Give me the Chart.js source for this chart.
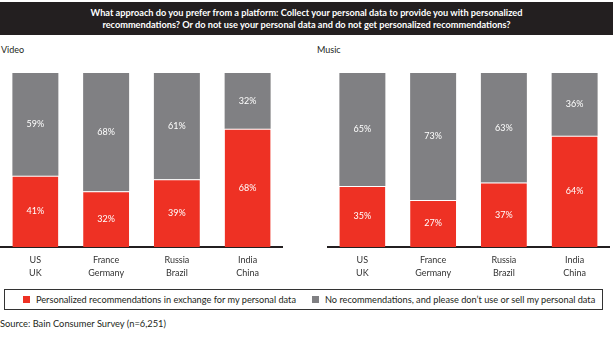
<!DOCTYPE html>
<html>
<head>
<meta charset="utf-8">
<script src="https://cdn.jsdelivr.net/npm/chart.js@4.4.1/dist/chart.umd.min.js"></script>
<style>
  html, body { margin: 0; padding: 0; background: #fff; }
  body { width: 613px; height: 346px; position: relative; overflow: hidden; font-family: Lato, "Liberation Sans", sans-serif; color: #231F20; }
  #title { position: absolute; left: 0; top: 2px; width: 613px; height: 33px; background: #231F20; color: #fff; font-weight: bold; font-size: 9.2px; line-height: 12px; text-align: center; box-sizing: border-box; padding-top: 5px; }
  .panel { position: absolute; top: 44px; font-size: 9px; }
  .cv { position: absolute; }
  #legend { position: absolute; left: 4px; top: 289px; width: 599px; height: 21px; border: 1px solid #333; box-sizing: border-box; font-size: 9.2px; }
  .sw { position: absolute; top: 6px; width: 7px; height: 7px; }
  .lt { position: absolute; top: 4px; white-space: nowrap; line-height: 11px; }
  #source { position: absolute; left: 0; top: 318px; font-size: 9.3px; white-space: nowrap; }
</style>
</head>
<body>
<div id="title">What approach do you prefer from a platform: Collect your personal data to provide you with personalized<br>recommendations? Or do not use your personal data and do not get personalized recommendations?</div>
<div class="panel" style="left:1px;">Video</div>
<div class="panel" style="left:317px;">Music</div>
<div class="cv" style="left:0px; top:70px; width:283px; height:215px;"><canvas id="c1"></canvas></div>
<div class="cv" style="left:327px; top:70px; width:283px; height:215px;"><canvas id="c2"></canvas></div>
<div id="legend">
  <div class="sw" style="left:18px; background:#EE3124;"></div>
  <div class="lt" style="left:31px;">Personalized recommendations in exchange for my personal data</div>
  <div class="sw" style="left:307px; background:#808083;"></div>
  <div class="lt" style="left:320px;">No recommendations, and please don’t use or sell my personal data</div>
</div>
<div id="source">Source: Bain Consumer Survey (n=6,251)</div>
<script>
const categories = [["US", "UK"], ["France", "Germany"], ["Russia", "Brazil"], ["India", "China"]];
const seriesNames = ["Personalized recommendations in exchange for my personal data", "No recommendations, and please don’t use or sell my personal data"];
const videoPersonalized = [41, 32, 39, 68];
const videoNoRecs = [59, 68, 61, 32];
const musicPersonalized = [35, 27, 37, 64];
const musicNoRecs = [65, 73, 63, 36];

const RED = "#EE3124";
const GRAY = "#808083";

const labelPlugin = {
  id: "segLabels",
  afterDatasetsDraw(chart) {
    const ctx = chart.ctx;
    ctx.save();
    ctx.fillStyle = "#fff";
    ctx.font = "9px Lato, 'Liberation Sans', sans-serif";
    ctx.textAlign = "center";
    ctx.textBaseline = "middle";
    chart.data.datasets.forEach((ds, di) => {
      const meta = chart.getDatasetMeta(di);
      meta.data.forEach((el, i) => {
        const p = el.getProps(["x", "y", "base"], true);
        ctx.fillText(ds.data[i] + "%", p.x, (p.y + p.base) / 2);
      });
    });
    ctx.restore();
  }
};

function makeChart(id, a, b) {
  return new Chart(document.getElementById(id), {
    type: "bar",
    data: {
      labels: categories,
      datasets: [
        { label: seriesNames[0], data: a, backgroundColor: RED, borderColor: "#fff", borderWidth: { top: 1, left: 0, right: 0, bottom: 0 }, borderSkipped: false, categoryPercentage: 1, barPercentage: 0.65 },
        { label: seriesNames[1], data: b, backgroundColor: GRAY, borderWidth: 0, categoryPercentage: 1, barPercentage: 0.65 }
      ]
    },
    options: {
      responsive: true,
      maintainAspectRatio: false,
      animation: false,
      layout: { padding: { top: 3, left: 0, right: 0, bottom: 0 } },
      plugins: { legend: { display: false }, tooltip: { enabled: false } },
      scales: {
        x: {
          stacked: true,
          grid: { display: false, drawTicks: false },
          border: { display: true, color: "#231F20", width: 2 },
          ticks: { color: "#333", font: { size: 9, family: "Lato, 'Liberation Sans', sans-serif", lineHeight: 1.45 }, padding: 7, maxRotation: 0, autoSkip: false },
          afterFit(s) { s.height = 38; }
        },
        y: { stacked: true, min: 0, max: 100, display: false }
      }
    },
    plugins: [labelPlugin]
  });
}
makeChart("c1", videoPersonalized, videoNoRecs);
makeChart("c2", musicPersonalized, musicNoRecs);
</script>
</body>
</html>
